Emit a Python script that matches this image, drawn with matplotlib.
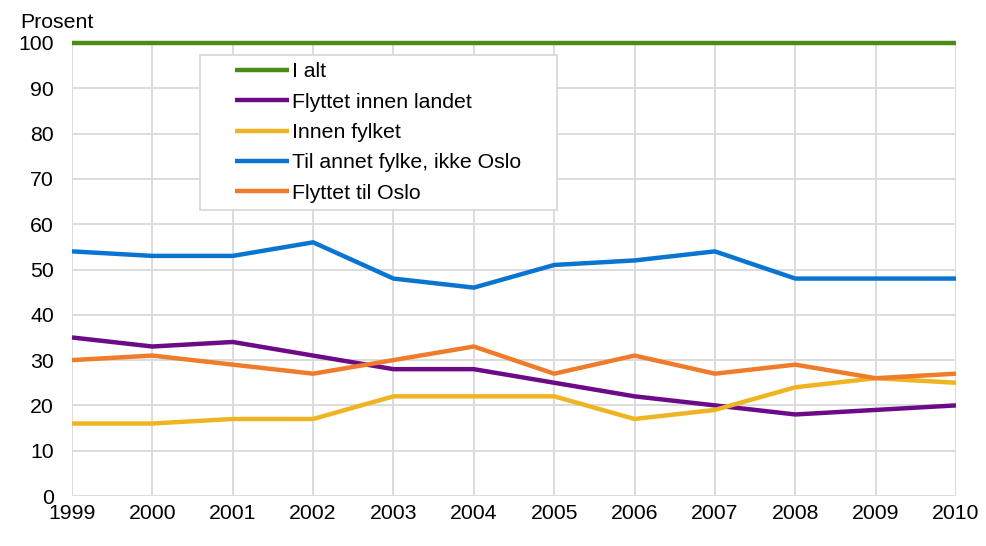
import matplotlib
matplotlib.use("Agg")
from matplotlib import pyplot as plt
from matplotlib.patches import Rectangle

plt.rcParams['font.family'] = ['Liberation Sans', 'DejaVu Sans']

years = list(range(1999, 2011))
i_alt = [100] * 12
innen_landet = [35, 33, 34, 31, 28, 28, 25, 22, 20, 18, 19, 20]
innen_fylket = [16, 16, 17, 17, 22, 22, 22, 17, 19, 24, 26, 25]
annet_fylke = [54, 53, 53, 56, 48, 46, 51, 52, 54, 48, 48, 48]
til_oslo = [30, 31, 29, 27, 30, 33, 27, 31, 27, 29, 26, 27]

series = [
    ("I alt", i_alt, "#4b8c12"),
    ("Flyttet innen landet", innen_landet, "#6c0a88"),
    ("Innen fylket", innen_fylket, "#efb422"),
    ("Til annet fylke, ikke Oslo", annet_fylke, "#0a75d1"),
    ("Flyttet til Oslo", til_oslo, "#ee7c2a"),
]

fs = 15.3

fig = plt.figure(figsize=(9.87, 5.46), dpi=100)
ax = fig.add_axes([72 / 987, 1 - 496 / 546, 884 / 987, 453 / 546])

for label, vals, col in series:
    ax.plot(years, vals, color=col, lw=3.2, label=label, solid_capstyle="butt", zorder=3,
            clip_on=False)

ax.set_xlim(1999, 2010)
ax.set_ylim(0, 100)
ax.set_xticks(years)
ax.set_yticks(range(0, 101, 10))
ax.grid(True, color="#d9d9d9", lw=1.3, zorder=0)
ax.set_axisbelow(True)
for s in ax.spines.values():
    s.set_visible(False)
ax.tick_params(length=0, labelsize=fs, colors="black")
ax.tick_params(axis="y", pad=13)
ax.tick_params(axis="x", pad=6)

# legend frame
ax.add_patch(Rectangle((0.1448, 0.631), 0.4039, 0.3425, transform=ax.transAxes,
                       facecolor="white", edgecolor="#d9d9d9", lw=1.3, zorder=4))
leg = ax.legend(loc="upper left", bbox_to_anchor=(0.1844, 0.958), frameon=False,
                borderpad=0, borderaxespad=0, fontsize=fs, handlelength=2.55,
                handletextpad=0.15, labelspacing=0.54)
leg.set_zorder(5)

fig.text(20 / 987, 1 - 22 / 546, "Prosent", fontsize=fs, ha="left", va="center")

fig.savefig("out.png", dpi=100)
